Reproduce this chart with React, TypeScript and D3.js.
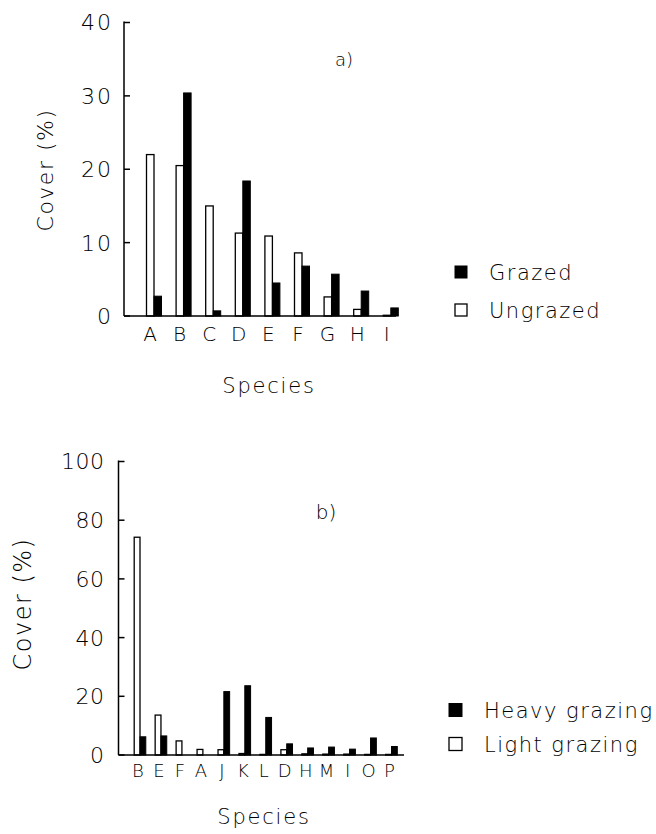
import React from "react";
import * as d3 from "d3";

// Panel a)
const speciesA = ["A", "B", "C", "D", "E", "F", "G", "H", "I"];
const grazedA = [2.7, 30.4, 0.7, 18.4, 4.5, 6.8, 5.7, 3.4, 1.1];
const ungrazedA = [22.0, 20.5, 15.0, 11.3, 10.9, 8.6, 2.6, 0.9, 0.1];
const ticksA = [0, 10, 20, 30, 40];

// Panel b)
const speciesB = ["B", "E", "F", "A", "J", "K", "L", "D", "H", "M", "I", "O", "P"];
const heavyB = [6.2, 6.5, 0, 0, 21.6, 23.6, 12.8, 3.8, 2.4, 2.7, 2.0, 5.8, 2.9];
const lightB = [74.2, 13.6, 4.8, 1.9, 1.8, 0.5, 0.2, 1.8, 0.4, 0.3, 0.3, 0.2, 0.2];
const ticksB = [0, 20, 40, 60, 80, 100];

const FONT = "'DejaVu Sans', sans-serif";

type PanelProps = {
  cats: string[];
  dark: number[];
  light: number[];
  ticks: number[];
  yMax: number;
  x0: number;
  xEnd: number;
  yTop: number;
  yBase: number;
  firstC: number;
  lastC: number;
  barW: number;
  labelOff: number;
  catFont: number;
  catBaseline: number;
  tickFont: number;
  tickGap: number;
  tickLS: number;
  yLabel: { x: number; y: number; size: number };
  xLabel: { x: number; y: number; size: number };
  tag: { text: string; x: number; y: number; size: number };
  legend: { x: number; tx: number; y1: number; y2: number; size: number; sq: number; darkName: string; lightName: string };
};

function Panel(p: PanelProps) {
  const y = d3.scaleLinear().domain([0, p.yMax]).range([p.yBase, p.yTop]);
  const x = d3.scalePoint<string>().domain(p.cats).range([p.firstC, p.lastC]);
  return (
    <g fontFamily={FONT} fontWeight={200} fill="#000">
      {p.cats.map((c, i) => {
        const cx = x(c)!;
        const hl = p.yBase - y(p.light[i]);
        const hd = p.yBase - y(p.dark[i]);
        return (
          <g key={c + i}>
            {p.light[i] > 0 && (
              <rect x={cx - p.barW} y={y(p.light[i])} width={p.barW} height={hl} fill="#fff" stroke="#000" strokeWidth={1.3} />
            )}
            {p.dark[i] > 0 && (
              <rect x={cx} y={y(p.dark[i])} width={p.barW} height={hd} fill="#000" stroke="#000" strokeWidth={1} />
            )}
            <text x={cx + p.labelOff} y={p.catBaseline} fontSize={p.catFont} textAnchor="middle">
              {c}
            </text>
          </g>
        );
      })}
      <line x1={p.x0} x2={p.x0} y1={p.yTop - 1} y2={p.yBase} stroke="#000" strokeWidth={1.5} />
      <line x1={p.x0} x2={p.xEnd} y1={p.yBase} y2={p.yBase} stroke="#000" strokeWidth={1.5} />
      {p.ticks.map((t) => (
        <g key={t}>
          <line x1={p.x0} x2={p.x0 + 6} y1={y(t)} y2={y(t)} stroke="#000" strokeWidth={1.5} />
          <text x={p.x0 - p.tickGap} y={y(t)} dy="0.36em" fontSize={p.tickFont} textAnchor="end" letterSpacing={p.tickLS}>
            {t}
          </text>
        </g>
      ))}
      <text
        transform={`translate(${p.yLabel.x},${p.yLabel.y}) rotate(-90)`}
        fontSize={p.yLabel.size}
        textAnchor="middle"
        dy="0.36em"
        letterSpacing={1.5}
      >
        Cover (%)
      </text>
      <text x={p.xLabel.x} y={p.xLabel.y} fontSize={p.xLabel.size} textAnchor="middle" letterSpacing={1.8}>
        Species
      </text>
      <text x={p.tag.x} y={p.tag.y} fontSize={p.tag.size} textAnchor="middle" dy="0.36em">
        {p.tag.text}
      </text>
      <rect x={p.legend.x} y={p.legend.y1 - p.legend.sq / 2} width={p.legend.sq} height={p.legend.sq} fill="#000" stroke="#000" />
      <text x={p.legend.tx} y={p.legend.y1} dy="0.36em" fontSize={p.legend.size} letterSpacing={1.5}>
        {p.legend.darkName}
      </text>
      <rect x={p.legend.x} y={p.legend.y2 - p.legend.sq / 2} width={p.legend.sq} height={p.legend.sq} fill="#fff" stroke="#000" strokeWidth={1.3} />
      <text x={p.legend.tx} y={p.legend.y2} dy="0.36em" fontSize={p.legend.size} letterSpacing={1.5}>
        {p.legend.lightName}
      </text>
    </g>
  );
}

export default function App() {
  return (
    <svg width={656} height={834} style={{ position: "absolute", left: 0, top: 0, background: "#fff" }}>
      <rect width={656} height={834} fill="#fff" />
      <Panel
        cats={speciesA}
        dark={grazedA}
        light={ungrazedA}
        ticks={ticksA}
        yMax={40}
        x0={124}
        xEnd={396}
        yTop={22.5}
        yBase={316}
        firstC={154}
        lastC={390.8}
        barW={7.5}
        labelOff={-4}
        catFont={20}
        catBaseline={341}
        tickFont={22}
        tickGap={11}
        tickLS={2}
        yLabel={{ x: 45, y: 170, size: 22 }}
        xLabel={{ x: 269, y: 393, size: 21 }}
        tag={{ text: "a)", x: 344, y: 60, size: 18 }}
        legend={{ x: 455, tx: 489, y1: 272, y2: 310, size: 21, sq: 12, darkName: "Grazed", lightName: "Ungrazed" }}
      />
      <Panel
        cats={speciesB}
        dark={heavyB}
        light={lightB}
        ticks={ticksB}
        yMax={100}
        x0={118.5}
        xEnd={404}
        yTop={461.5}
        yBase={755}
        firstC={140}
        lastC={391.5}
        barW={5.8}
        labelOff={-2}
        catFont={18}
        catBaseline={777}
        tickFont={22}
        tickGap={14}
        tickLS={0.5}
        yLabel={{ x: 22, y: 604, size: 24 }}
        xLabel={{ x: 264, y: 824, size: 21 }}
        tag={{ text: "b)", x: 326, y: 512, size: 20 }}
        legend={{ x: 449, tx: 484, y1: 710, y2: 744, size: 21, sq: 13, darkName: "Heavy grazing", lightName: "Light grazing" }}
      />
    </svg>
  );
}
